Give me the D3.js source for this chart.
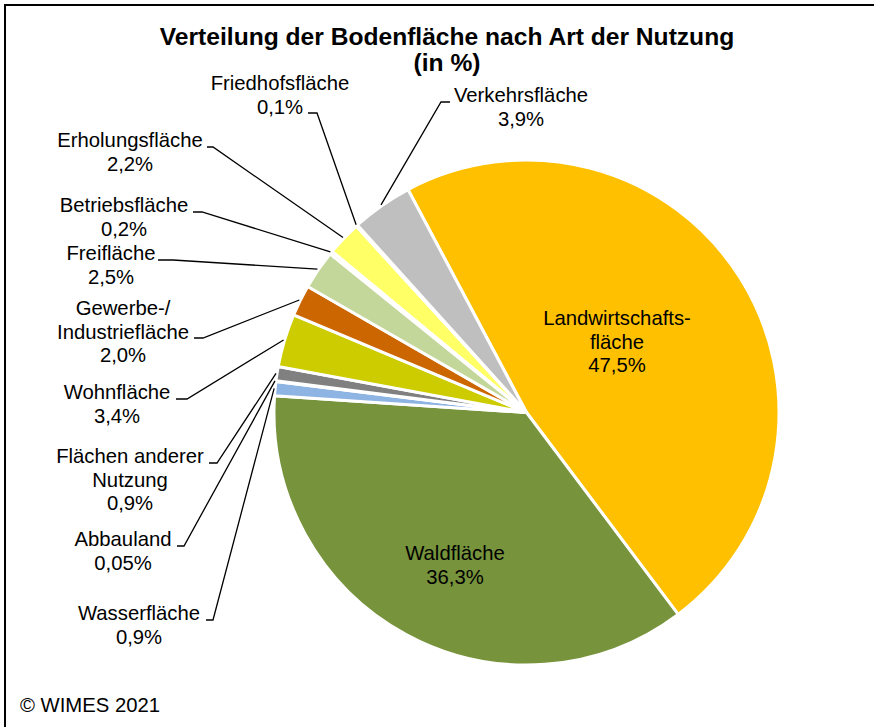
<!DOCTYPE html>
<html>
<head>
<meta charset="utf-8">
<script src="https://cdn.jsdelivr.net/npm/d3@7"></script>
<style>
  body { margin: 0; background: #fff; }
  svg { display: block; font-family: "Liberation Sans", Arial, sans-serif; }
</style>
</head>
<body>
<svg id="chart" width="874" height="727"></svg>
<script>
// data, clockwise from the top slice
var categories = ['Landwirtschafts-|fläche', 'Waldfläche', 'Wasserfläche', 'Abbauland',
  'Flächen anderer|Nutzung', 'Wohnfläche', 'Gewerbe-/|Industriefläche', 'Freifläche',
  'Betriebsfläche', 'Erholungsfläche', 'Friedhofsfläche', 'Verkehrsfläche']
var values = [47.5, 36.3, 0.9, 0.05, 0.9, 3.4, 2.0, 2.5, 0.2, 2.2, 0.1, 3.9]
var colors = ['#FFC000', '#77933C', '#8DB4E2', '#948A54', '#808080', '#CCCC00',
  '#CC6600', '#C4D79B', '#F79646', '#FFFF66', '#E6B9B8', '#BFBFBF']

// label placement (x center, first baseline, leader stub)
var labelPos = [
  { x: 617, y: 325 },
  { x: 455, y: 560 },
  { x: 139, y: 620, sx: [206, 213], sy: 620 },
  { x: 123, y: 546, sx: [177, 184], sy: 546 },
  { x: 130, y: 463, sx: [209, 217], sy: 463 },
  { x: 117, y: 399, sx: [176, 187], sy: 399 },
  { x: 123, y: 315, sx: [194, 203], sy: 338 },
  { x: 111, y: 260, sx: [158, 173], sy: 260 },
  { x: 124, y: 212, sx: [193, 202], sy: 212 },
  { x: 130, y: 147, sx: [207, 213], sy: 147 },
  { x: 280, y: 90, sx: [308, 317], sy: 113 },
  { x: 521, y: 102, sx: [450, 441], sy: 102 }
]

var svg = d3.select('#chart')
var cx = 526.5, cy = 412.5, radius = 252.5
var start = -28 * Math.PI / 180

function pct(v) {
  return (v < 0.1 ? v.toFixed(2) : v.toFixed(1)).replace('.', ',') + '%'
}

// frame (top + left edge)
svg.append('path')
  .attr('d', 'M5,727V5H874')
  .attr('fill', 'none')
  .attr('stroke', '#000')
  .attr('stroke-width', 2)

// title
svg.append('text')
  .attr('x', 447).attr('y', 45)
  .attr('text-anchor', 'middle')
  .style('font-size', '24.6px').style('font-weight', 'bold')
  .text('Verteilung der Bodenfläche nach Art der Nutzung')
svg.append('text')
  .attr('x', 447).attr('y', 71)
  .attr('text-anchor', 'middle')
  .style('font-size', '24.6px').style('font-weight', 'bold')
  .text('(in %)')

var pie = d3.pie().sort(null).value(d => d)
  .startAngle(start).endAngle(start + 2 * Math.PI)
var arcs = pie(values)
var arc = d3.arc().innerRadius(0).outerRadius(radius)
var outer = d3.arc().innerRadius(radius + 1).outerRadius(radius + 1)

var g = svg.append('g').attr('transform', 'translate(' + cx + ',' + cy + ')')

g.selectAll('path.slice')
  .data(arcs)
  .enter()
  .append('path')
    .attr('class', 'slice')
    .attr('d', arc)
    .attr('fill', (d, i) => colors[i])
    .attr('stroke', '#fff')
    .attr('stroke-width', 3)
    .attr('stroke-linejoin', 'round')

// leader lines
arcs.forEach(function(d, i) {
  var p = labelPos[i]
  if (!p.sx) return
  var c = outer.centroid(d)
  svg.append('path')
    .attr('d', 'M' + p.sx[0] + ',' + p.sy + 'H' + p.sx[1] + 'L' + (cx + c[0]) + ',' + (cy + c[1]))
    .attr('fill', 'none')
    .attr('stroke', '#000')
    .attr('stroke-width', 1.3)
})

// labels
arcs.forEach(function(d, i) {
  var p = labelPos[i]
  var lines = categories[i].split('|').concat([pct(values[i])])
  var t = svg.append('text')
    .attr('text-anchor', 'middle')
    .style('font-size', '20.3px')
    .attr('fill', '#000')
  lines.forEach(function(l, k) {
    t.append('tspan').attr('x', p.x).attr('y', p.y + k * 23.5).text(l)
  })
})

svg.append('text')
  .attr('x', 20).attr('y', 712)
  .style('font-size', '20.3px')
  .text('© WIMES 2021')
</script>
</body>
</html>
